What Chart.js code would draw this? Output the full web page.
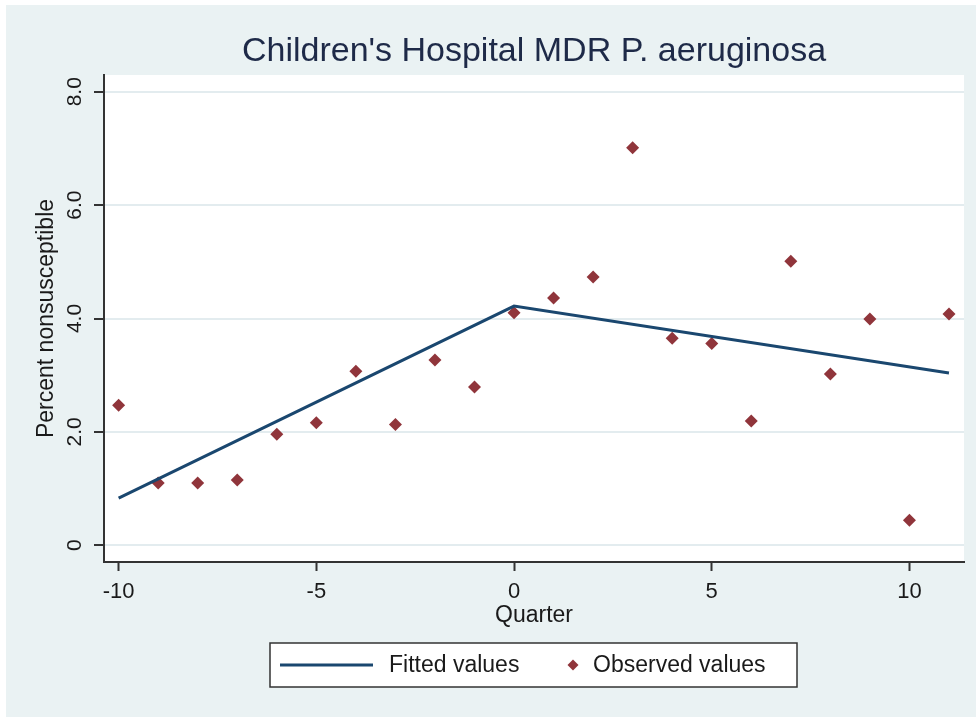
<!DOCTYPE html>
<html>
<head>
<meta charset="utf-8">
<script src="https://cdn.jsdelivr.net/npm/chart.js@4.4.0/dist/chart.umd.min.js"></script>
<style>
  html, body { margin: 0; padding: 0; background: #ffffff; }
  #wrap { width: 976px; height: 717px; }
</style>
</head>
<body>
<div id="wrap"><canvas id="canvas" width="976" height="717"></canvas></div>
<script>
// quarters relative to intervention, observed percent nonsusceptible
const quarters = [-10, -9, -8, -7, -6, -5, -4, -3, -2, -1, 0, 1, 2, 3, 4, 5, 6, 7, 8, 9, 10, 11];
const observed = [2.47, 1.10, 1.10, 1.15, 1.96, 2.16, 3.07, 2.13, 3.27, 2.79, 4.10, 4.36, 4.73, 7.01, 3.65, 3.56, 2.19, 5.01, 3.02, 3.99, 0.44, 4.08];

// fitted segmented regression, read at its vertices
const fittedX = [-10, 0, 11];
const fittedY = [0.83, 4.22, 3.04];

const xTicks = [-10, -5, 0, 5, 10];
const yTicks = [0, 2, 4, 6, 8];
const yTickLabels = ["0", "2.0", "4.0", "6.0", "8.0"];

const titleText = "Children's Hospital MDR P. aeruginosa";
const legendLabels = ["Fitted values", "Observed values"];

const FONT = '"Liberation Sans", Arial, sans-serif';
const navy = '#1a476f';
const maroon = '#90353b';
const panel = '#eaf2f3';

const stataLook = {
    id: 'stataLook',
    beforeDraw(chart) {
        const ctx = chart.ctx;
        const a = chart.chartArea;
        ctx.save();
        ctx.fillStyle = '#ffffff';
        ctx.fillRect(0, 0, chart.width, chart.height);
        ctx.fillStyle = panel;
        ctx.fillRect(6, 5, chart.width - 6, chart.height - 5);
        ctx.fillStyle = '#ffffff';
        ctx.fillRect(a.left, a.top, a.right - a.left, a.bottom - a.top);
        ctx.restore();
    },
    afterDraw(chart) {
        const ctx = chart.ctx;
        const a = chart.chartArea;
        const ys = chart.scales.y;
        ctx.save();

        // title
        ctx.fillStyle = '#1e2a48';
        ctx.font = '34px ' + FONT;
        ctx.textAlign = 'center';
        ctx.textBaseline = 'middle';
        ctx.fillText(titleText, (a.left + a.right) / 2, 52);

        // rotated y tick labels
        ctx.fillStyle = '#1a1a1a';
        ctx.font = '21px ' + FONT;
        for (let i = 0; i < yTicks.length; i++) {
            const py = ys.getPixelForValue(yTicks[i]);
            ctx.save();
            ctx.translate(75, py);
            ctx.rotate(-Math.PI / 2);
            ctx.fillText(yTickLabels[i], 0, 0);
            ctx.restore();
        }

        // legend box
        ctx.fillStyle = '#ffffff';
        ctx.fillRect(270, 643, 527, 44);
        ctx.strokeStyle = '#333333';
        ctx.lineWidth = 1.5;
        ctx.strokeRect(270, 643, 527, 44);

        ctx.strokeStyle = navy;
        ctx.lineWidth = 3;
        ctx.beginPath();
        ctx.moveTo(280, 665);
        ctx.lineTo(373, 665);
        ctx.stroke();

        ctx.fillStyle = maroon;
        ctx.beginPath();
        ctx.moveTo(573, 659.5);
        ctx.lineTo(578.5, 665);
        ctx.lineTo(573, 670.5);
        ctx.lineTo(567.5, 665);
        ctx.closePath();
        ctx.fill();

        ctx.fillStyle = '#1a1a1a';
        ctx.font = '23px ' + FONT;
        ctx.textAlign = 'left';
        ctx.fillText(legendLabels[0], 389, 666);
        ctx.fillText(legendLabels[1], 593, 666);
        ctx.restore();
    }
};

const canvas = document.getElementById("canvas");
const ctx = canvas.getContext("2d");

new Chart(ctx, {
    type: 'scatter',
    data: {
        datasets: [{
            label: legendLabels[0],
            data: fittedX.map((x, i) => ({ x: x, y: fittedY[i] })),
            showLine: true,
            borderColor: navy,
            borderWidth: 3,
            pointRadius: 0,
            tension: 0
        }, {
            label: legendLabels[1],
            data: quarters.map((x, i) => ({ x: x, y: observed[i] })),
            pointStyle: 'rectRot',
            pointRadius: 6.5,
            backgroundColor: maroon,
            borderColor: maroon,
            borderWidth: 0
        }]
    },
    options: {
        responsive: false,
        animation: false,
        layout: {
            padding: { left: 0, right: 12, top: 75, bottom: 85 }
        },
        scales: {
            x: {
                type: 'linear',
                min: -10.37,
                max: 11.38,
                afterBuildTicks: (scale) => { scale.ticks = xTicks.map(v => ({ value: v })); },
                afterFit: (scale) => { scale.height = 70; },
                grid: {
                    drawOnChartArea: false,
                    drawTicks: true,
                    tickLength: 9,
                    tickColor: '#333333',
                    tickWidth: 2
                },
                border: { display: true, color: '#333333', width: 2 },
                ticks: {
                    padding: 8,
                    color: '#1a1a1a',
                    font: { family: FONT, size: 22 },
                    maxRotation: 0
                },
                title: {
                    display: true,
                    text: 'Quarter',
                    color: '#1a1a1a',
                    font: { family: FONT, size: 23 },
                    padding: { top: 3, bottom: 3 }
                }
            },
            y: {
                type: 'linear',
                min: -0.295,
                max: 8.295,
                afterBuildTicks: (scale) => { scale.ticks = yTicks.map(v => ({ value: v })); },
                afterFit: (scale) => { scale.width = 104; },
                grid: {
                    color: '#e3ecef',
                    lineWidth: 2,
                    drawTicks: true,
                    tickLength: 10,
                    tickColor: '#333333',
                    tickWidth: 2
                },
                border: { display: true, color: '#333333', width: 2 },
                ticks: { display: false },
                title: {
                    display: true,
                    text: 'Percent nonsusceptible',
                    color: '#1a1a1a',
                    font: { family: FONT, size: 23 },
                    padding: { top: 33, bottom: 0 }
                }
            }
        },
        plugins: {
            legend: { display: false },
            title: { display: false },
            tooltip: { enabled: false }
        }
    },
    plugins: [stataLook]
});
</script>
</body>
</html>
